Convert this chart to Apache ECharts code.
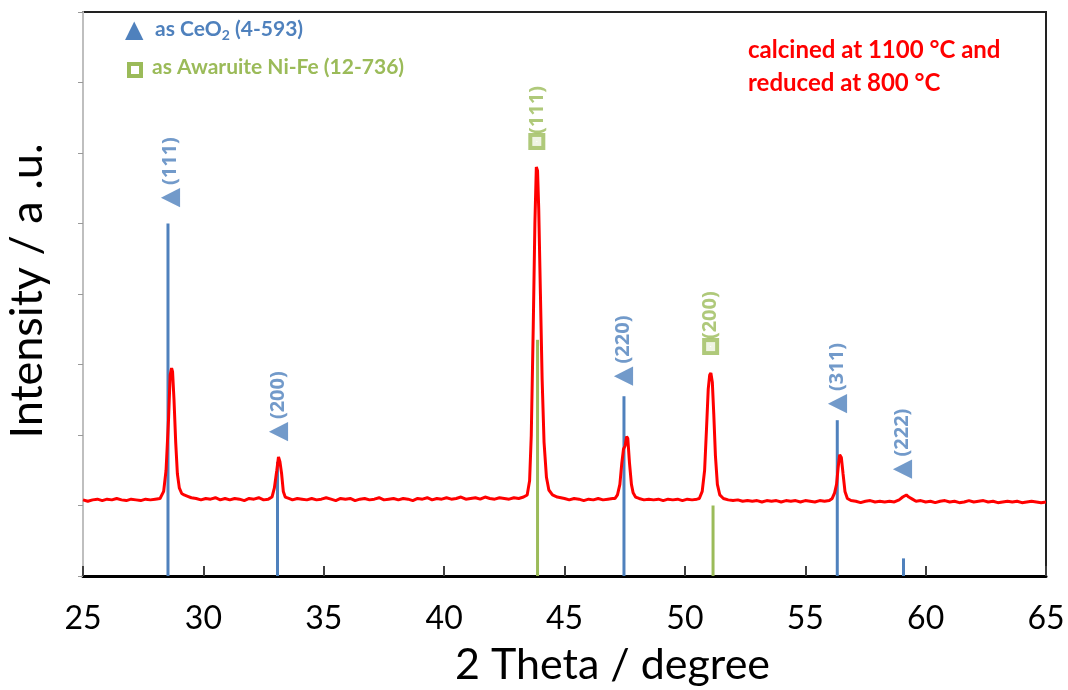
<!DOCTYPE html>
<html><head><meta charset="utf-8">
<script src="https://cdn.jsdelivr.net/npm/echarts@6/dist/echarts.min.js"></script>
<style>html,body{margin:0;padding:0;background:#fff}#c{width:1068px;height:690px}</style>
</head><body><div id="c"></div>
<script>
// Measured XRD scan: [2theta, intensity (a.u.)]
const scan = [
[25.0,1.08],[25.2,1.06],[25.4,1.08],[25.6,1.09],[25.8,1.07],[26.0,1.09],[26.2,1.08],[26.4,1.10],[26.6,1.08],[26.8,1.07],
[27.0,1.09],[27.2,1.08],[27.4,1.07],[27.6,1.09],[27.8,1.08],[28.0,1.09],[28.2,1.10],[28.35,1.2],[28.45,1.5],[28.55,2.2],
[28.62,2.85],[28.68,2.95],[28.72,2.9],[28.78,2.5],[28.85,1.9],[28.92,1.45],[29.0,1.25],[29.1,1.17],[29.2,1.15],[29.35,1.13],
[29.5,1.11],[29.7,1.1],[29.9,1.08],[30.1,1.1],[30.3,1.09],[30.5,1.11],[30.7,1.08],[30.9,1.1],[31.1,1.08],[31.3,1.1],
[31.5,1.09],[31.7,1.07],[31.9,1.1],[32.1,1.09],[32.3,1.11],[32.5,1.08],[32.7,1.09],[32.85,1.12],[32.95,1.25],[33.05,1.5],
[33.12,1.69],[33.18,1.62],[33.25,1.45],[33.32,1.2],[33.4,1.12],[33.55,1.1],[33.7,1.08],[33.9,1.1],[34.1,1.09],[34.3,1.08],
[34.5,1.1],[34.7,1.08],[34.9,1.09],[35.1,1.11],[35.3,1.09],[35.5,1.07],[35.7,1.1],[35.9,1.09],[36.1,1.1],[36.3,1.07],
[36.5,1.09],[36.7,1.1],[36.9,1.08],[37.1,1.09],[37.3,1.11],[37.5,1.08],[37.7,1.09],[37.9,1.1],[38.1,1.08],[38.3,1.1],
[38.5,1.09],[38.7,1.07],[38.9,1.1],[39.1,1.09],[39.3,1.11],[39.5,1.08],[39.7,1.1],[39.9,1.09],[40.1,1.11],[40.3,1.09],
[40.5,1.1],[40.7,1.12],[40.9,1.09],[41.1,1.1],[41.3,1.11],[41.5,1.09],[41.7,1.12],[41.9,1.1],[42.1,1.09],[42.3,1.11],
[42.5,1.1],[42.7,1.09],[42.9,1.11],[43.1,1.1],[43.3,1.12],[43.45,1.15],[43.55,1.35],[43.62,2.0],[43.7,3.5],[43.77,5.0],
[43.83,5.8],[43.88,5.75],[43.93,5.2],[44.0,4.0],[44.07,2.8],[44.15,1.9],[44.25,1.4],[44.35,1.22],[44.5,1.15],[44.7,1.12],
[45.0,1.1],[45.2,1.08],[45.4,1.1],[45.6,1.09],[45.8,1.07],[46.0,1.09],[46.2,1.08],[46.4,1.1],[46.6,1.08],[46.8,1.09],
[47.0,1.1],[47.1,1.1],[47.2,1.15],[47.3,1.3],[47.38,1.6],[47.45,1.8],[47.52,1.85],[47.58,1.98],[47.63,1.95],[47.7,1.6],
[47.78,1.3],[47.85,1.18],[47.95,1.12],[48.1,1.1],[48.3,1.08],[48.5,1.09],[48.7,1.08],[48.9,1.09],[49.1,1.07],[49.3,1.09],
[49.5,1.08],[49.7,1.09],[49.9,1.07],[50.1,1.09],[50.3,1.08],[50.5,1.09],[50.6,1.1],[50.72,1.2],[50.82,1.5],[50.9,2.1],
[50.97,2.65],[51.03,2.85],[51.08,2.88],[51.14,2.75],[51.2,2.3],[51.27,1.7],[51.35,1.3],[51.45,1.15],[51.6,1.1],[51.8,1.08],
[52.0,1.07],[52.2,1.08],[52.4,1.06],[52.6,1.07],[52.8,1.06],[53.0,1.07],[53.2,1.05],[53.4,1.07],[53.6,1.06],[53.8,1.07],
[54.0,1.05],[54.2,1.07],[54.4,1.06],[54.6,1.07],[54.8,1.05],[55.0,1.07],[55.2,1.06],[55.4,1.05],[55.6,1.07],[55.8,1.06],
[56.0,1.07],[56.12,1.1],[56.22,1.18],[56.3,1.3],[56.37,1.55],[56.43,1.72],[56.5,1.68],[56.57,1.45],[56.65,1.2],[56.75,1.1],
[56.9,1.07],[57.1,1.06],[57.3,1.04],[57.5,1.06],[57.7,1.07],[57.9,1.05],[58.1,1.06],[58.3,1.05],[58.5,1.06],[58.7,1.05],
[58.9,1.08],[59.05,1.12],[59.2,1.15],[59.3,1.12],[59.45,1.09],[59.6,1.06],[59.8,1.07],[60.0,1.05],[60.2,1.06],[60.4,1.04],
[60.6,1.06],[60.8,1.07],[61.0,1.05],[61.2,1.06],[61.4,1.04],[61.6,1.05],[61.8,1.07],[62.0,1.05],[62.2,1.06],[62.4,1.07],
[62.6,1.05],[62.8,1.06],[63.0,1.04],[63.2,1.05],[63.4,1.06],[63.6,1.05],[63.8,1.06],[64.0,1.04],[64.2,1.05],[64.4,1.06],
[64.6,1.05],[64.8,1.04],[65.0,1.05]
];
// Reference pattern CeO2 (4-593)
const ceo2Pos = [28.53, 33.08, 47.47, 56.33, 59.08];
const ceo2Int = [5.0, 1.62, 2.55, 2.21, 0.25];
const ceo2Hkl = ['(111)', '(200)', '(220)', '(311)', '(222)'];
const ceo2LabelY = [5.23, 1.91, 2.70, 2.31, 1.38];
const ceo2LabelX = [28.62, 33.12, 47.45, 56.33, 59.05];
// Reference pattern Awaruite Ni-Fe (12-736)
const nifePos = [43.88, 51.17];
const nifeInt = [3.35, 1.0];
const nifeHkl = ['(111)', '(200)'];
const nifeLabelY = [6.10, 3.19];
const nifeLabelX = [43.85, 51.07];
const xTicks = [25, 30, 35, 40, 45, 50, 55, 60, 65];

const BLUE = '#4f81bd', GREEN = '#9bbb59', RED = '#ff0000';
const FONT = 'Lato';

function stickSeries(pos, inten, color) {
  return {
    type: 'custom', z: 3,
    data: pos.map((p, i) => [p, inten[i]]),
    renderItem: function (params, api) {
      const a = api.coord([api.value(0), 0]);
      const b = api.coord([api.value(0), api.value(1)]);
      return { type: 'line', shape: { x1: a[0], y1: a[1], x2: b[0], y2: b[1] },
        style: { stroke: color, lineWidth: 3 } };
    }
  };
}
function labelSeries(xs, ys, hkl, color, iconKey) {
  return {
    type: 'scatter', symbolSize: 0, z: 5, silent: true,
    data: xs.map((x, i) => ({ value: [x, ys[i]], hkl: hkl[i] })),
    label: {
      show: true, position: 'top', distance: 0, rotate: 90, align: 'left', verticalAlign: 'middle',
      formatter: function (p) { return '{' + iconKey + '|' + (iconKey === 'tri' ? '▲' : '') + '}{t|' + p.data.hkl + '}'; },
      rich: {
        tri: { fontSize: 25, color: color, fontFamily: 'DejaVu Sans', padding: [0, 0, 0, 0] },
        sq: { width: 9, height: 9, backgroundColor: '#fff', borderColor: color, borderWidth: 4 },
        t: { fontSize: 20, fontWeight: 'bold', color: color, fontFamily: 'Open Sans', padding: [0, 0, 0, 3] }
      }
    }
  };
}

const chart = echarts.init(document.getElementById('c'), null, { renderer: 'canvas' });
chart.setOption({
  animation: false,
  backgroundColor: '#fff',
  grid: { left: 83, right: 22, top: 12, bottom: 114, containLabel: false, outerBoundsMode: 'none',
    show: true, borderColor: '#222', borderWidth: 2, backgroundColor: 'transparent' },
  xAxis: {
    type: 'value', min: xTicks[0], max: xTicks[xTicks.length - 1], interval: 5,
    axisLine: { lineStyle: { color: '#000', width: 3 } },
    axisTick: { inside: true, length: 10, lineStyle: { color: '#404040', width: 2 } },
    splitLine: { show: false },
    axisLabel: { fontSize: 32, color: '#000', fontFamily: FONT, margin: 27 },
    name: '2 Theta / degree', nameLocation: 'middle', nameGap: 68,
    nameTextStyle: { fontSize: 43, color: '#000', fontFamily: FONT, padding: [0, 0, 0, 96] }
  },
  yAxis: {
    type: 'value', min: 0, max: 8, interval: 1,
    axisLine: { show: true, lineStyle: { color: '#bfbfbf', width: 2 } },
    axisTick: { show: true, inside: false, length: 5, lineStyle: { color: '#999', width: 1 } },
    splitLine: { show: false },
    axisLabel: { show: false },
    name: 'Intensity / a .u.', nameLocation: 'middle', nameGap: 33, nameRotate: 90,
    nameTextStyle: { fontSize: 45, color: '#000', fontFamily: FONT, padding: [0, 0, 0, 6] }
  },
  series: [
    stickSeries(ceo2Pos, ceo2Int, BLUE),
    stickSeries(nifePos, nifeInt, GREEN),
    { type: 'line', data: scan, showSymbol: false, z: 4, lineStyle: { color: RED, width: 3 } },
    labelSeries(ceo2LabelX, ceo2LabelY, ceo2Hkl, BLUE, 'tri'),
    labelSeries(nifeLabelX, nifeLabelY, nifeHkl, GREEN, 'sq')
  ],
  graphic: [
    { type: 'text', left: 125, top: 19, style: { text: '▲', fontSize: 24, fill: BLUE, fontFamily: 'DejaVu Sans' } },
    { type: 'text', left: 155, top: 19, style: {
      rich: {
        m: { fontSize: 21, fontWeight: 'bold', fill: BLUE, fontFamily: FONT },
        s: { fontSize: 14, fontWeight: 'bold', fill: BLUE, fontFamily: FONT, padding: [12, 0, 0, 0] }
      },
      text: '{m|as CeO}{s|2}{m| (4-593)}'
    } },
    { type: 'rect', left: 127, top: 62, shape: { width: 12, height: 12 }, style: { fill: '#fff', stroke: GREEN, lineWidth: 4 } },
    { type: 'text', left: 152, top: 57, style: { text: 'as Awaruite Ni-Fe (12-736)', fontSize: 21, fontWeight: 'bold', fill: GREEN, fontFamily: FONT } },
    { type: 'text', left: 748, top: 34, style: { text: 'calcined at 1100 °C and\nreduced at 800 °C', fontSize: 24, fontWeight: 'bold', fill: RED, fontFamily: FONT, lineHeight: 33 } }
  ]
});
</script></body></html>
